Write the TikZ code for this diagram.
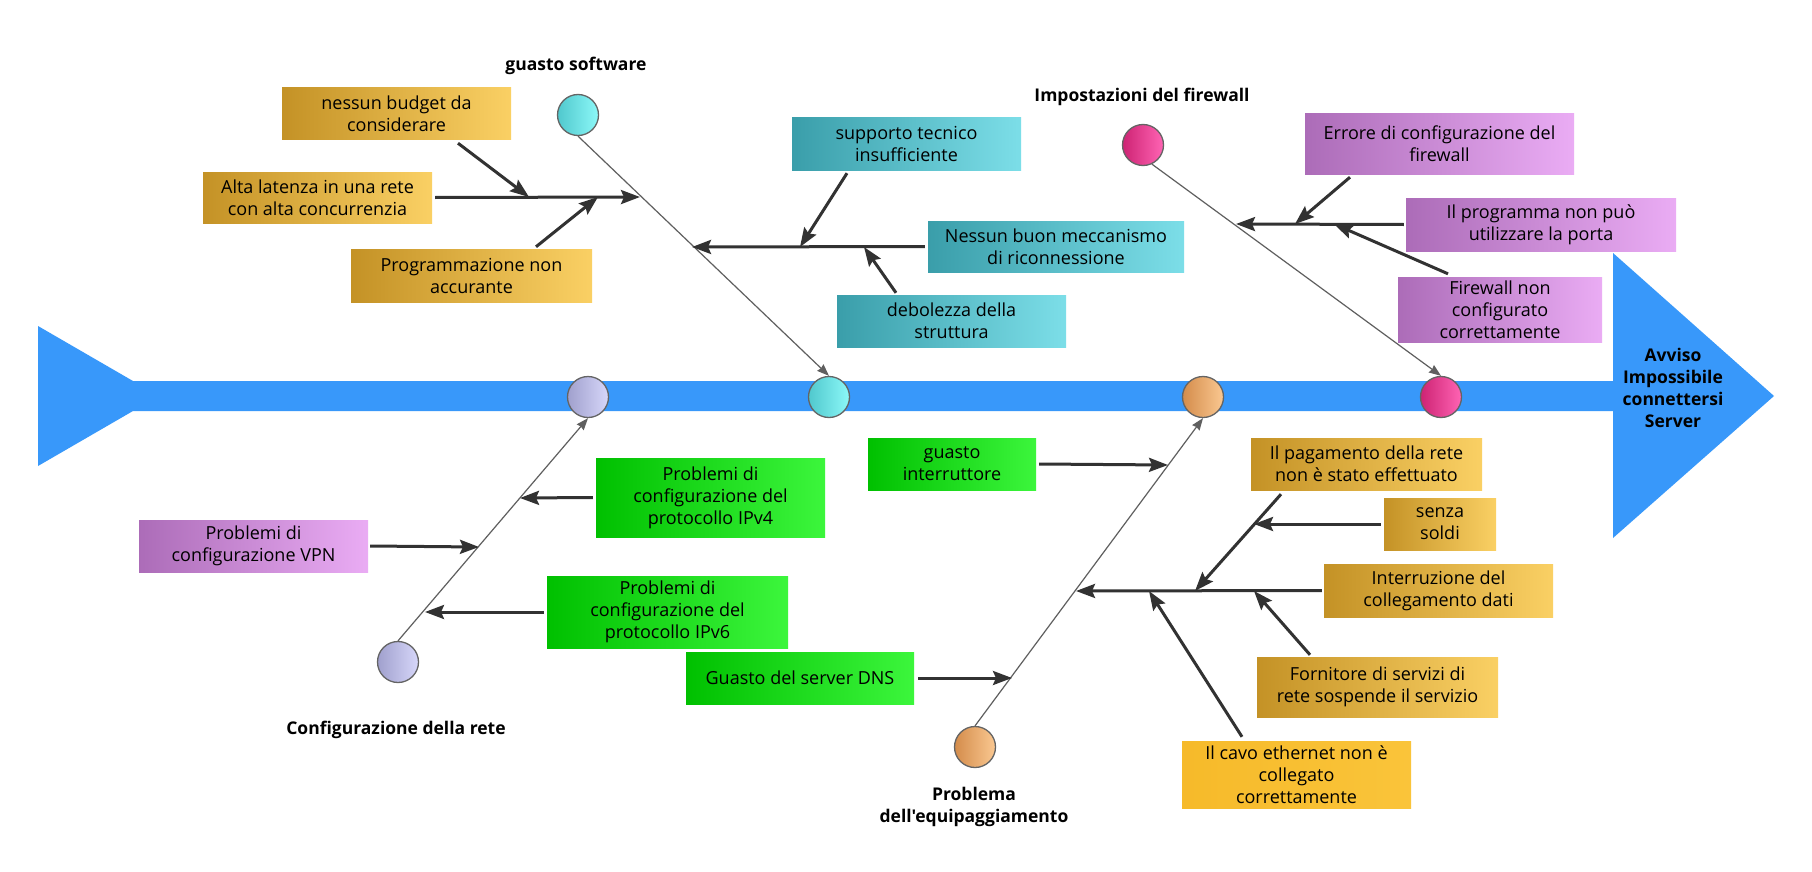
\documentclass[tikz,border=0pt]{standalone}
\usepackage{fontspec}
\setmainfont{Open Sans}
\newfontfamily\plainopen{Open Sans}
\usetikzlibrary{arrows.meta,calc,shapes.geometric}

\definecolor{spinec}{RGB}{56,152,250}
\definecolor{goldL}{RGB}{196,146,38}
\definecolor{goldR}{RGB}{250,208,100}
\definecolor{tealL}{RGB}{58,158,170}
\definecolor{tealR}{RGB}{124,222,232}
\definecolor{purpL}{RGB}{172,108,184}
\definecolor{purpR}{RGB}{234,172,244}
\definecolor{grnL}{RGB}{0,192,0}
\definecolor{grnR}{RGB}{60,246,60}
\definecolor{cavoL}{RGB}{246,186,42}
\definecolor{cavoR}{RGB}{250,196,58}
\definecolor{bonec}{RGB}{50,50,50}
\definecolor{finec}{RGB}{95,95,95}
\definecolor{knotc}{RGB}{100,100,100}
\definecolor{cyL}{RGB}{80,200,205}
\definecolor{cyR}{RGB}{140,248,248}
\definecolor{pkL}{RGB}{205,35,115}
\definecolor{pkR}{RGB}{255,100,180}
\definecolor{lvL}{RGB}{160,160,205}
\definecolor{lvR}{RGB}{215,215,250}
\definecolor{orL}{RGB}{212,140,75}
\definecolor{orR}{RGB}{250,200,145}

\begin{document}
\begin{tikzpicture}[x=1pt,y=-1pt,
  box/.style={minimum height=52, inner sep=1pt, align=center,
    font=\fontsize{18}{22}\selectfont, text=black},
  goldbox/.style={box, left color=goldL, right color=goldR},
  tealbox/.style={box, left color=tealL, right color=tealR},
  purpbox/.style={box, left color=purpL, right color=purpR},
  grnbox/.style={box, left color=grnL, right color=grnR},
  cavobox/.style={box, left color=cavoL, right color=cavoR},
  bone/.style={draw=bonec, line width=3pt, -{Stealth[length=19pt,width=14pt,inset=3pt]}},
  fine/.style={draw=finec, line width=1.2pt, -{Stealth[length=12pt,width=9pt,inset=1pt]}},
  knot/.style={ellipse, minimum width=41, minimum height=41, inner sep=0, draw=knotc, line width=1.3pt},
  cyknot/.style={knot, left color=cyL, right color=cyR},
  pkknot/.style={knot, left color=pkL, right color=pkR},
  lvknot/.style={knot, left color=lvL, right color=lvR},
  orknot/.style={knot, left color=orL, right color=orR},
  lab/.style={font=\bfseries\fontsize{17.5}{22}\selectfont, align=center}
]
\useasboundingbox (0,0) rectangle (1812,872);
\fill[white] (0,0) rectangle (1812,872);

% spine with tail and head
\fill[spinec] (38,326) -- (133,381) -- (1613,381) -- (1613,253) -- (1774,396)
  -- (1613,538) -- (1613,411) -- (133,411) -- (38,466) -- cycle;
\node[lab] (effect) at (1673,388) {Avviso\\Impossibile\\connettersi\\Server};

% knots
\node[cyknot] (k1) at (578,115) {};
\node[cyknot] (s1) at (829,397) {};
\node[pkknot] (k2) at (1143,145) {};
\node[pkknot] (s2) at (1441,397) {};
\node[lvknot] (k3) at (398,662) {};
\node[lvknot] (s3) at (588,397) {};
\node[orknot] (k4) at (975,747) {};
\node[orknot] (s4) at (1203,397) {};

% category labels
\node[lab] (l1) at (576,66) {guasto software};
\node[lab] (l2) at (1142,97) {Impostazioni del firewall};
\node[lab] (l3) at (396,730) {Configurazione della rete};
\node[lab] (l4) at (974,807) {Problema\\{\plainopen\bfseries dell'equipaggiamento}};

% category lines
\draw[fine] (k1.south) -- (s1.north);
\draw[fine] (k2.-65) -- (s2.north);
\draw[fine] (k3.north) -- (s3.south);
\draw[fine] (k4.north) -- (s4.south);

% boxes
\node[goldbox, minimum width=229, minimum height=52] (nessun) at (396.5,114) {nessun budget da\\considerare};
\node[goldbox, minimum width=229, minimum height=51] (alta) at (317.5,197.5) {Alta latenza in una rete\\con alta concurrenzia};
\node[goldbox, minimum width=241, minimum height=53] (prog) at (471.5,275.5) {Programmazione non\\accurante};
\node[tealbox, minimum width=229] (supp) at (906.5,144) {supporto tecnico\\insufficiente};
\node[tealbox, minimum width=256, minimum height=51] (ricon) at (1056,246.5) {Nessun buon meccanismo\\di riconnessione};
\node[tealbox, minimum width=229] (debo) at (951.5,321) {debolezza della\\struttura};
\node[purpbox, minimum width=269, minimum height=60] (erro) at (1439.5,144) {Errore di configurazione del\\firewall};
\node[purpbox, minimum width=270, minimum height=53] (porta) at (1541,224.5) {Il programma non può\\utilizzare la porta};
\node[purpbox, minimum width=204, minimum height=65] (fwnon) at (1500,309.5) {Firewall non\\configurato\\correttamente};
\node[grnbox, minimum width=168] (gint) at (952,464) {guasto\\interruttore};
\node[goldbox, minimum width=231] (paga) at (1366.5,464) {Il pagamento della rete\\non è stato effettuato};
\node[goldbox, minimum width=112] (senza) at (1440,524) {senza\\soldi};
\node[goldbox, minimum width=229, minimum height=53] (inter) at (1438.5,590.5) {Interruzione del\\collegamento dati};
\node[goldbox, minimum width=241, minimum height=60] (forn) at (1377.5,687) {Fornitore di servizi di\\rete sospende il servizio};
\node[cavobox, minimum width=229, minimum height=67] (cavo) at (1296.5,774.5) {Il cavo ethernet non è\\collegato\\correttamente};
\node[grnbox, minimum width=228] (dns) at (800,678) {Guasto del server DNS};
\node[grnbox, minimum width=229, minimum height=79] (ipv4) at (710.5,497.5) {Problemi di\\configurazione del\\protocollo IPv4};
\node[purpbox, minimum width=229] (vpn) at (253.5,546) {Problemi di\\configurazione VPN};
\node[grnbox, minimum width=241, minimum height=72] (ipv6) at (667.5,612) {Problemi di\\configurazione del\\protocollo IPv6};

% tip coordinates
\coordinate (tA) at (640,197);
\coordinate (tB) at (692,247);
\coordinate (tC) at (1236,224);
\coordinate (tD) at (1076,591);
\coordinate (tG) at (1168,465);
\coordinate (tDNS) at (1012,678);
\coordinate (t4) at (520,498);
\coordinate (tV) at (479,547);
\coordinate (t6) at (425,612);
\coordinate (tNes) at (529,197);
\coordinate (tPro) at (598,197);
\coordinate (tSup) at (800,247);
\coordinate (tDeb) at (864,247);
\coordinate (tErr) at (1295,224);
\coordinate (tFw) at (1334,224);
\coordinate (tPag) at (1195,591);
\coordinate (tSen) at (1254,524);
\coordinate (tFor) at (1254,591);
\coordinate (tCav) at (1149,591);

% main bones
\draw[bone] ($(alta.east)+(3,0)$) -- (tA);
\draw[bone] ($(ricon.west)+(-3,0)$) -- (tB);
\draw[bone] ($(porta.west)+(-2,0)$) -- (tC);
\draw[bone] ($(inter.west)+(-2,0)$) -- (tD);
\draw[bone] ($(gint.east)+(3,0)$) -- (tG);
\draw[bone] ($(dns.east)+(4,0)$) -- (tDNS);
\draw[bone] ($(ipv4.west)+(-3,0)$) -- (t4);
\draw[bone] ($(vpn.east)+(2,0)$) -- (tV);
\draw[bone] ($(ipv6.west)+(-3,0)$) -- (t6);

% sub bones
\draw[bone] ($(nessun.south)+(61.5,3)$) -- (tNes);
\draw[bone] ($(prog.north)+(64.5,-2)$) -- (tPro);
\draw[bone] ($(supp.south)+(-59.5,3)$) -- (tSup);
\draw[bone] ($(debo.north)+(-55.5,-2)$) -- (tDeb);
\draw[bone] ($(erro.south)+(-89.5,3)$) -- (tErr);
\draw[bone] ($(fwnon.north)+(-52,-3)$) -- (tFw);
\draw[bone] ($(paga.south)+(-85.5,4)$) -- (tPag);
\draw[bone] ($(senza.west)+(-3,0)$) -- (tSen);
\draw[bone] ($(forn.north)+(-67.5,-2)$) -- (tFor);
\draw[bone] ($(cavo.north)+(-54.5,-4)$) -- (tCav);
\end{tikzpicture}
\end{document}
